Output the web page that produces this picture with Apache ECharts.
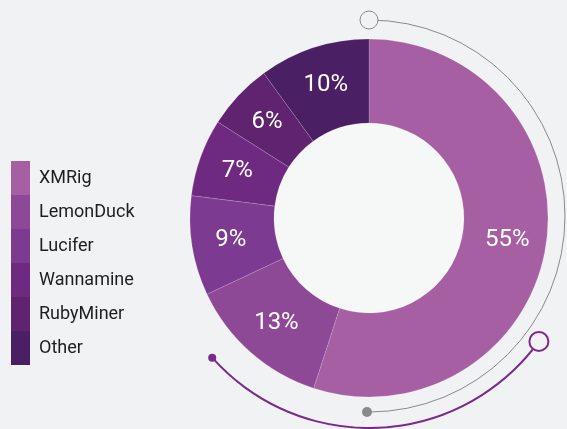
<!DOCTYPE html>
<html>
<head>
<meta charset="utf-8">
<script src="https://cdn.jsdelivr.net/npm/echarts@6/dist/echarts.min.js"></script>
<style>
html,body{margin:0;padding:0;background:#f1f2f4;}
#chart{width:567px;height:429px;}
</style>
</head>
<body>
<div id="chart"></div>
<script>
const categories = ['XMRig', 'LemonDuck', 'Lucifer', 'Wannamine', 'RubyMiner', 'Other'];
const values = [55, 13, 9, 7, 6, 10];
const colors = ['#a55fa2', '#8e4996', '#7c3b91', '#6e2a80', '#5f236f', '#4b1f63'];

const CX = 369, CY = 218, R_IN = 95, R_OUT = 179;
const deg = Math.PI / 180;
const bg = '#f1f2f4';

const chart = echarts.init(document.getElementById('chart'));
chart.setOption({
  backgroundColor: bg,
  animation: false,
  legend: {
    orient: 'vertical',
    left: 11,
    top: 161,
    padding: 0,
    itemGap: 0,
    itemWidth: 19,
    itemHeight: 34,
    icon: 'rect',
    selectedMode: false,
    itemStyle: { borderWidth: 0 },
    data: categories,
    textStyle: { fontFamily: 'Roboto', fontSize: 18, lineHeight: 20, color: '#1e1e1e', padding: [4, 0, 0, 4] }
  },
  graphic: [
    { type: 'circle', z: 1, silent: true, shape: { cx: CX, cy: CY, r: R_IN }, style: { fill: '#f6f7f7' } },
    { type: 'arc', z: 1, silent: true, shape: { cx: CX, cy: 216, r: 196, startAngle: -90 * deg, endAngle: 90.6 * deg, clockwise: true }, style: { stroke: '#8a8a8a', lineWidth: 1, fill: 'none' } },
    { type: 'circle', z: 2, silent: true, shape: { cx: CX, cy: 20, r: 9 }, style: { stroke: '#8a8a8a', lineWidth: 1, fill: bg } },
    { type: 'circle', z: 2, silent: true, shape: { cx: 367, cy: 412, r: 5 }, style: { fill: '#8a8a8a' } },
    { type: 'arc', z: 1, silent: true, shape: { cx: CX, cy: CY, r: 210, startAngle: 36 * deg, endAngle: 138.3 * deg, clockwise: true }, style: { stroke: '#7a2a8a', lineWidth: 2, fill: 'none' } },
    { type: 'circle', z: 2, silent: true, shape: { cx: CX + 210 * Math.cos(36 * deg), cy: CY + 210 * Math.sin(36 * deg), r: 9.5 }, style: { stroke: '#7a2a8a', lineWidth: 2, fill: bg } },
    { type: 'circle', z: 2, silent: true, shape: { cx: CX + 210 * Math.cos(138.3 * deg), cy: CY + 210 * Math.sin(138.3 * deg), r: 4 }, style: { fill: '#7a2a8a' } }
  ],
  series: [{
    type: 'pie',
    center: [CX, CY],
    radius: [R_IN, R_OUT],
    startAngle: 90,
    clockwise: true,
    silent: true,
    z: 3,
    label: {
      show: true,
      position: 'inside',
      formatter: '{c}%',
      color: '#ffffff',
      fontFamily: 'Roboto',
      fontSize: 24
    },
    labelLine: { show: false },
    itemStyle: { borderColor: 'rgba(255,255,255,0.25)', borderWidth: 0.6 },
    data: categories.map((c, i) => ({ name: c, value: values[i], itemStyle: { color: colors[i] } }))
  }]
});
</script>
</body>
</html>
